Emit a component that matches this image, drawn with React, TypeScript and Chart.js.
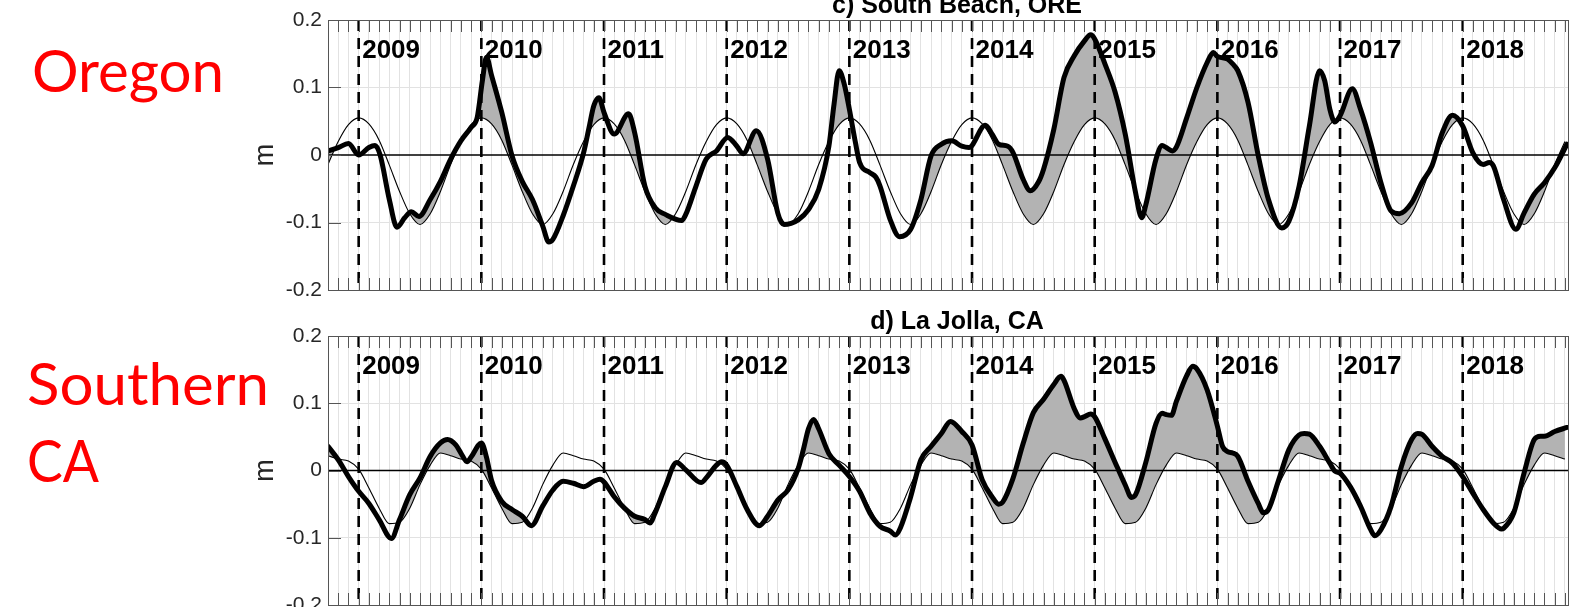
import React, { useEffect, useRef } from "react";
import { Chart, registerables } from "chart.js";

Chart.register(...registerables);

// x axis: months since 1 Oct 2008
const xMin = 0;
const xMax = 121.3;
const monthTicks: number[] = Array.from({ length: 122 }, (_, i) => i);
const yearLabels = ["2009", "2010", "2011", "2012", "2013", "2014", "2015", "2016", "2017", "2018"];
const yearStartMonths = [3, 15, 27, 39, 51, 63, 75, 87, 99, 111];
const yTickValues = [-0.2, -0.1, 0, 0.1, 0.2];
const yTickLabels = ["-0.2", "-0.1", "0", "0.1", "0.2"];

// monthly climatology (Jan..Dec)
const oregonClimatology = [0.055, 0.046, 0.022, -0.015, -0.054, -0.087, -0.103, -0.087, -0.054, -0.014, 0.02, 0.045];
const laJollaClimatology = [0.002, -0.026, -0.056, -0.079, -0.077, -0.056, -0.021, 0.008, 0.026, 0.022, 0.017, 0.014];

// observed [month, value]
const oregonObserved: [number, number][] = [
  [0, 0.006], [1, 0.011], [2, 0.017], [3, 0.0], [4, 0.011], [4.6, 0.014], [5.1, 0.0], [6, -0.066],
  [6.75, -0.107], [7.5, -0.093], [8.15, -0.084], [8.9, -0.091], [10, -0.066], [11, -0.039], [12, -0.006],
  [13, 0.021], [14, 0.041], [14.6, 0.056], [15.1, 0.11], [15.5, 0.145], [16, 0.118], [17, 0.063],
  [18, -0.001], [19, -0.039], [20, -0.066], [21, -0.105], [21.6, -0.129], [22, -0.125], [23, -0.09],
  [24, -0.046], [25, 0.003], [25.5, 0.038], [26, 0.073], [26.5, 0.085], [27, 0.063], [28, 0.031],
  [29.4, 0.061], [30, 0.033], [31, -0.046], [32, -0.078], [33, -0.088], [34.6, -0.097], [35, -0.088],
  [36, -0.046], [37, -0.006], [38, 0.006], [39.1, 0.026], [40, 0.013], [40.6, 0.002], [41.9, 0.036],
  [43, -0.006], [44, -0.086], [44.6, -0.103], [46, -0.096], [47, -0.081], [48, -0.051], [49, 0.013],
  [49.5, 0.075], [50, 0.125], [50.5, 0.105], [51, 0.068], [51.6, 0.018], [52, -0.011], [53, -0.026],
  [53.6, -0.033], [54, -0.046], [55, -0.096], [55.9, -0.121], [57, -0.11], [58, -0.066], [59, -0.001],
  [60, 0.016], [61, 0.021], [62, 0.013], [62.7, 0.011], [64.3, 0.044], [65, 0.03], [65.6, 0.016],
  [66.5, 0.013], [67, 0.004], [68, -0.036], [68.7, -0.053], [69.5, -0.04], [70, -0.021], [71, 0.038],
  [72, 0.115], [73, 0.147], [74, 0.169], [74.6, 0.178], [75, 0.172], [76, 0.135], [77, 0.093],
  [78, 0.03], [79, -0.056], [79.6, -0.093], [80, -0.074], [81, -0.006], [81.6, 0.014], [82, 0.011],
  [82.6, 0.006], [83, 0.012], [84, 0.055], [85, 0.1], [86, 0.137], [86.6, 0.152], [87, 0.146],
  [88, 0.142], [88.5, 0.135], [89, 0.125], [90, 0.078], [91, -0.001], [92, -0.066], [93.3, -0.108],
  [94, -0.098], [95, -0.046], [96, 0.043], [97, 0.125], [97.5, 0.11], [98, 0.068], [98.5, 0.049],
  [99, 0.058], [100.2, 0.098], [101, 0.068], [102, 0.018], [103, -0.041], [104, -0.083], [104.8, -0.087],
  [106, -0.071], [107, -0.041], [108, -0.016], [109, 0.033], [110, 0.059], [111, 0.043], [112, 0.003],
  [113, -0.014], [113.6, -0.011], [114, -0.016], [115, -0.066], [116.2, -0.11], [117, -0.086],
  [118, -0.058], [119, -0.041], [120, -0.019], [121.2, 0.016],
];

const laJollaObserved: [number, number][] = [
  [0, 0.036], [1, 0.016], [2, -0.009], [3, -0.031], [4, -0.049], [5, -0.073], [6.2, -0.101], [7, -0.073],
  [8, -0.036], [9, -0.011], [10, 0.021], [11, 0.041], [11.7, 0.046], [12.5, 0.038], [13, 0.026],
  [13.6, 0.013], [14, 0.02], [15, 0.041], [15.5, 0.02], [16, -0.015], [17, -0.046], [18, -0.058],
  [19, -0.068], [19.9, -0.082], [21, -0.053], [22, -0.029], [23, -0.016], [24, -0.019], [25, -0.024],
  [26, -0.016], [26.6, -0.013], [27, -0.017], [28, -0.039], [29, -0.056], [30, -0.068], [31, -0.073],
  [31.5, -0.078], [32, -0.063], [33, -0.024], [34.1, 0.012], [35, 0.001], [36.5, -0.018], [37, -0.011],
  [38, 0.008], [38.5, 0.013], [39, 0.008], [40, -0.024], [41, -0.058], [42.2, -0.082], [43, -0.068],
  [44, -0.044], [45, -0.029], [46, 0.003], [46.5, 0.031], [47, 0.062], [47.5, 0.076], [48, 0.062],
  [49, 0.025], [50, 0.008], [51, -0.009], [52, -0.031], [53, -0.063], [54, -0.083], [55, -0.09],
  [55.5, -0.096], [56, -0.085], [57, -0.039], [58, 0.016], [59, 0.036], [60, 0.055], [60.9, 0.073],
  [62, 0.058], [63, 0.038], [64, -0.014], [65, -0.04], [65.6, -0.05], [66, -0.047], [67, -0.012],
  [68, 0.04], [69, 0.086], [70, 0.106], [71, 0.128], [71.7, 0.14], [72, 0.134], [73, 0.092],
  [73.6, 0.078], [74, 0.08], [74.6, 0.084], [75, 0.08], [76, 0.047], [77, 0.012], [78, -0.022],
  [78.6, -0.04], [79, -0.036], [80, 0.012], [81, 0.07], [81.6, 0.085], [82, 0.083], [82.5, 0.082],
  [83, 0.103], [84, 0.141], [84.6, 0.155], [85, 0.151], [86, 0.12], [87, 0.066], [87.5, 0.036],
  [88, 0.028], [88.5, 0.026], [89, 0.021], [90, -0.016], [91, -0.049], [91.5, -0.063], [92, -0.058],
  [93, -0.014], [94, 0.031], [95, 0.053], [95.5, 0.055], [96, 0.054], [97, 0.036], [98, 0.011],
  [98.5, -0.001], [99, -0.004], [100, -0.024], [101, -0.053], [102, -0.088], [102.4, -0.097],
  [103, -0.088], [104, -0.053], [105, 0.006], [106, 0.046], [106.6, 0.055], [107, 0.054], [108, 0.036],
  [109, 0.021], [110, 0.011], [111, -0.009], [112, -0.034], [113, -0.058], [114, -0.078], [114.8, -0.087],
  [115, -0.086], [116, -0.063], [117, -0.004], [118, 0.046], [118.6, 0.051], [119, 0.051], [120, 0.058],
  [121.2, 0.064],
];

const FONT = "'Liberation Sans', Arial, Helvetica, sans-serif";
const W = 1569;
const H = 607;
const CANVAS_H = 680;

function climSeries(clim: number[]) {
  return monthTicks.map((m) => ({ x: m, y: clim[(m + 9) % 12] }));
}

function makeDecor(title: string) {
  return {
    id: "decor",
    afterDatasetsDraw(chart: any) {
      const { ctx, chartArea: a, scales } = chart;
      const x = scales.x;
      const y = scales.y;
      ctx.save();
      ctx.beginPath();
      ctx.rect(a.left, a.top, a.right - a.left, a.bottom - a.top);
      ctx.clip();
      const y0 = y.getPixelForValue(0);
      ctx.strokeStyle = "#000";
      ctx.lineWidth = 1.3;
      ctx.beginPath();
      ctx.moveTo(a.left, y0);
      ctx.lineTo(a.right, y0);
      ctx.stroke();
      ctx.setLineDash([11, 7]);
      ctx.lineWidth = 2.6;
      for (const m of yearStartMonths) {
        const px = x.getPixelForValue(m);
        ctx.beginPath();
        ctx.moveTo(px, a.top);
        ctx.lineTo(px, a.bottom);
        ctx.stroke();
      }
      ctx.restore();
    },
    afterDraw(chart: any) {
      const { ctx, chartArea: a, scales } = chart;
      const x = scales.x;
      const y = scales.y;
      ctx.save();
      ctx.strokeStyle = "#555";
      ctx.lineWidth = 1;
      ctx.beginPath();
      for (const m of monthTicks) {
        const px = Math.round(x.getPixelForValue(m)) + 0.5;
        ctx.moveTo(px, a.top);
        ctx.lineTo(px, a.top + 12);
        ctx.moveTo(px, a.bottom);
        ctx.lineTo(px, a.bottom - 12);
      }
      for (const v of yTickValues) {
        const py = Math.round(y.getPixelForValue(v)) + 0.5;
        ctx.moveTo(a.left, py);
        ctx.lineTo(a.left + 13, py);
      }
      ctx.stroke();
      ctx.strokeRect(Math.round(a.left) + 0.5, Math.round(a.top) + 0.5, Math.round(a.right - a.left), Math.round(a.bottom - a.top));
      ctx.fillStyle = "#000";
      ctx.font = `bold 26px ${FONT}`;
      ctx.textAlign = "left";
      ctx.textBaseline = "alphabetic";
      yearStartMonths.forEach((m, i) => {
        ctx.fillText(yearLabels[i], x.getPixelForValue(m) + 3.5, a.top + 38);
      });
      ctx.font = `bold 25px ${FONT}`;
      ctx.textAlign = "center";
      ctx.fillText(title, 957, a.top - 7);
      ctx.fillStyle = "#262626";
      ctx.font = `27px ${FONT}`;
      ctx.translate(273, y.getPixelForValue(0));
      ctx.rotate(-Math.PI / 2);
      ctx.textAlign = "center";
      ctx.textBaseline = "alphabetic";
      ctx.fillText("m", 0, 0);
      ctx.restore();
    },
  };
}

function makeConfig(obs: [number, number][], clim: number[], title: string, top: number, bottom: number): any {
  return {
    type: "line",
    data: {
      datasets: [
        {
          data: obs.map(([m, v]) => ({ x: m, y: v })),
          borderColor: "#000",
          borderWidth: 5,
          borderJoinStyle: "round",
          borderCapStyle: "round",
          pointRadius: 0,
          cubicInterpolationMode: "monotone",
          fill: { target: 1, above: "#b3b3b3", below: "rgba(0,0,0,0)" },
          backgroundColor: "#b3b3b3",
        },
        {
          data: climSeries(clim),
          borderColor: "#000",
          borderWidth: 1.1,
          pointRadius: 0,
          cubicInterpolationMode: "monotone",
          fill: false,
        },
      ],
    },
    options: {
      animation: false,
      responsive: false,
      events: [],
      layout: { autoPadding: false, padding: { left: 268, right: W - 1568, top, bottom: CANVAS_H - bottom } },
      plugins: {
        legend: { display: false },
        tooltip: { enabled: false },
        title: { display: false },
        filler: { drawTime: "beforeDatasetsDraw" },
      },
      scales: {
        x: {
          type: "linear",
          min: xMin,
          max: xMax,
          afterBuildTicks: (s: any) => {
            s.ticks = monthTicks.map((v) => ({ value: v }));
          },
          afterFit: (s: any) => {
            s.height = 0;
          },
          ticks: { display: false, autoSkip: false },
          grid: { color: "#e2e2e2", lineWidth: 1, drawTicks: false },
          border: { display: false },
        },
        y: {
          min: -0.2,
          max: 0.2,
          afterBuildTicks: (s: any) => {
            s.ticks = yTickValues.map((v) => ({ value: v }));
          },
          afterFit: (s: any) => {
            s.width = 60;
          },
          ticks: {
            callback: (_v: any, i: number) => yTickLabels[i],
            color: "#262626",
            font: { family: FONT, size: 21 },
            padding: 6,
          },
          grid: {
            drawTicks: false,
            lineWidth: 1,
            color: (c: any) => {
              const v = c.tick ? c.tick.value : 0;
              return Math.abs(Math.abs(v) - 0.1) < 1e-6 ? "#e2e2e2" : "rgba(0,0,0,0)";
            },
          },
          border: { display: false },
        },
      },
    },
    plugins: [makeDecor(title)],
  };
}

export default function App() {
  const topRef = useRef<HTMLCanvasElement>(null);
  const botRef = useRef<HTMLCanvasElement>(null);

  useEffect(() => {
    const c1 = new Chart(topRef.current as HTMLCanvasElement, makeConfig(oregonObserved, oregonClimatology, "c) South Beach, ORE", 20, 290));
    const c2 = new Chart(botRef.current as HTMLCanvasElement, makeConfig(laJollaObserved, laJollaClimatology, "d) La Jolla, CA", 336, 605));
    return () => {
      c1.destroy();
      c2.destroy();
    };
  }, []);

  const canvasStyle: React.CSSProperties = { position: "absolute", left: 0, top: 0, display: "block" };
  const labelStyle = { fontFamily: "Lato, 'Open Sans', sans-serif", fontSize: 58, fill: "#ff0000" };

  return (
    <div style={{ position: "fixed", left: 0, top: 0, width: W, height: H, overflow: "hidden", background: "#fff" }}>
      <canvas ref={topRef} width={W} height={CANVAS_H} style={canvasStyle} />
      <canvas ref={botRef} width={W} height={CANVAS_H} style={canvasStyle} />
      <svg width={W} height={H} style={{ position: "absolute", left: 0, top: 0, pointerEvents: "none" }}>
        <text x={32} y={92} textLength={192} lengthAdjust="spacingAndGlyphs" style={labelStyle as any}>Oregon</text>
        <text x={27} y={405} textLength={242} lengthAdjust="spacingAndGlyphs" style={labelStyle as any}>Southern</text>
        <text x={27} y={482} textLength={72} lengthAdjust="spacingAndGlyphs" style={labelStyle as any}>CA</text>
      </svg>
    </div>
  );
}
